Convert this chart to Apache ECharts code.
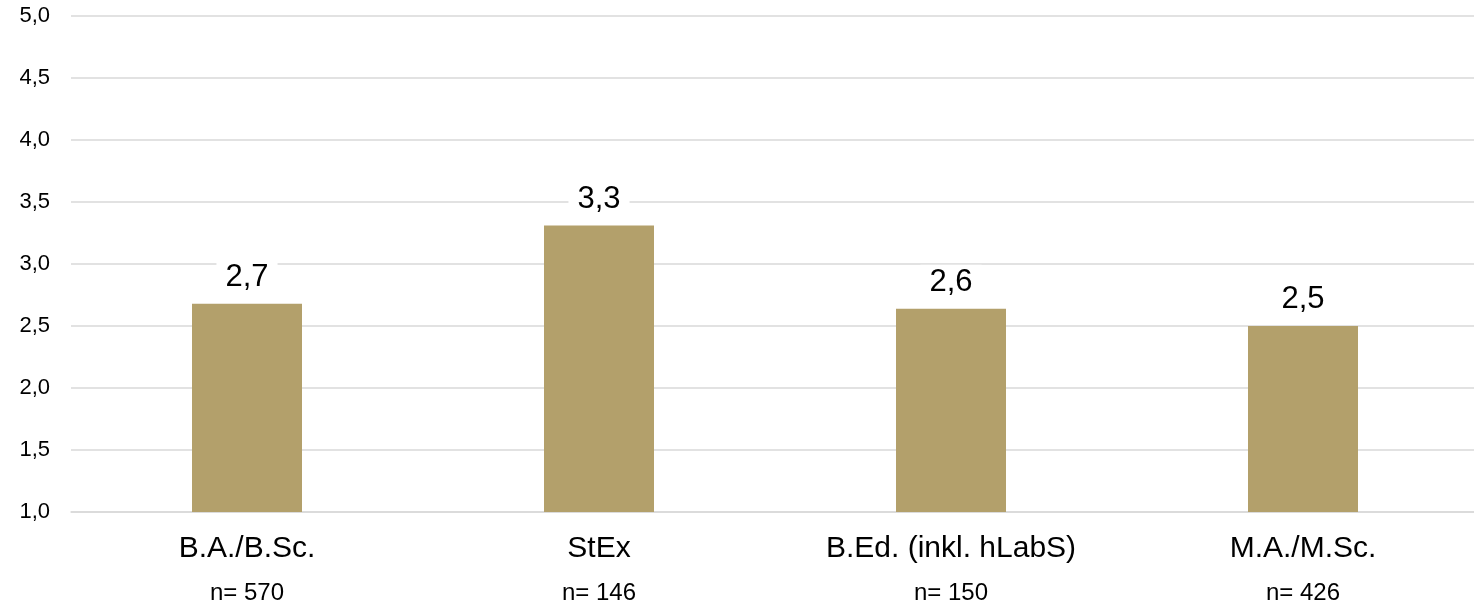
<!DOCTYPE html>
<html>
<head>
<meta charset="utf-8">
<script src="https://cdn.jsdelivr.net/npm/echarts@6/dist/echarts.min.js"></script>
<style>
html,body{margin:0;padding:0;background:#fff;overflow:hidden;}
#chart{width:1474px;height:606px;}
</style>
</head>
<body>
<div id="chart"></div>
<script>
const categories = ['B.A./B.Sc.', 'StEx', 'B.Ed. (inkl. hLabS)', 'M.A./M.Sc.'];
const sampleSizes = [570, 146, 150, 426];
const values = [2.68, 3.31, 2.64, 2.50];
const yTicks = [1.0, 1.5, 2.0, 2.5, 3.0, 3.5, 4.0, 4.5, 5.0];

const FONT = 'Liberation Sans, Arial, sans-serif';
const fmt = v => Number(v).toFixed(1).replace('.', ',');
const chart = echarts.init(document.getElementById('chart'), null, {renderer: 'canvas'});
chart.setOption({
  animation: false,
  backgroundColor: '#ffffff',
  grid: {left: 71, right: -5, top: 16, bottom: 94, containLabel: false, outerBoundsMode: 'none'},
  xAxis: {
    type: 'category',
    data: categories,
    axisLine: {show: true, lineStyle: {color: '#d9d9d9', width: 1.5}},
    axisTick: {show: false},
    axisLabel: {
      interval: 0,
      margin: 17,
      fontFamily: FONT,
      formatter: (val, idx) => '{a|' + val + '}\n{b|n= ' + sampleSizes[idx] + '}',
      rich: {
        a: {fontSize: 30, color: '#000', lineHeight: 40, fontFamily: FONT},
        b: {fontSize: 24, color: '#000', lineHeight: 48, fontFamily: FONT}
      }
    }
  },
  yAxis: {
    type: 'value',
    min: yTicks[0],
    max: yTicks[yTicks.length - 1],
    interval: 0.5,
    axisLine: {show: false},
    axisTick: {show: false},
    splitLine: {lineStyle: {color: '#d9d9d9', width: 1.5}},
    axisLabel: {
      color: '#000',
      fontSize: 22,
      margin: 21,
      align: 'right',
      fontFamily: FONT,
      formatter: v => fmt(v)
    }
  },
  series: [{
    type: 'bar',
    data: values,
    barWidth: 110,
    itemStyle: {color: '#b3a06b'},
    label: {
      show: true,
      position: 'top',
      distance: 9,
      color: '#000',
      fontSize: 31,
      fontFamily: FONT,
      backgroundColor: '#ffffff',
      padding: [2, 9],
      formatter: p => fmt(p.value)
    }
  }]
});
</script>
</body>
</html>
